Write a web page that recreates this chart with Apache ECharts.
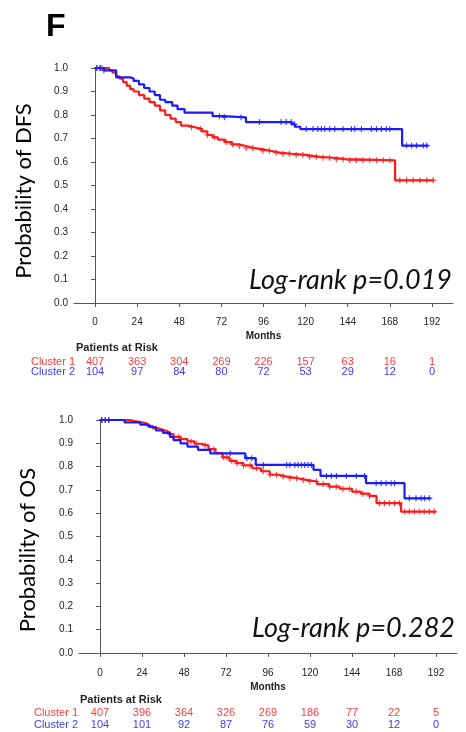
<!DOCTYPE html>
<html>
<head>
<meta charset="utf-8">
<script src="https://cdn.jsdelivr.net/npm/echarts@6/dist/echarts.min.js"></script>
<style>
  html, body { margin: 0; padding: 0; background: #fff; }
  #chart { width: 466px; height: 732px; }
</style>
</head>
<body>
<div id="chart"></div>
<script>
// month ticks shared by both panels
const monthTicks = [0, 24, 48, 72, 96, 120, 144, 168, 192];

// DFS – step curves (month, probability)
const dfsC1Time = [0, 8, 10, 12, 14, 16, 18, 20, 22, 25, 28, 31, 34, 37, 40, 43, 46, 49, 53, 57, 61, 64, 67, 70, 74, 78, 82, 86, 90, 95, 100, 105, 112, 120, 128, 136, 143, 171, 193];
const dfsC1Surv = [1.0, 0.99, 0.98, 0.965, 0.955, 0.94, 0.925, 0.91, 0.9, 0.885, 0.87, 0.855, 0.84, 0.82, 0.80, 0.785, 0.77, 0.755, 0.748, 0.74, 0.73, 0.715, 0.705, 0.695, 0.685, 0.675, 0.668, 0.66, 0.655, 0.648, 0.64, 0.635, 0.63, 0.622, 0.618, 0.612, 0.607, 0.522, 0.522];
const dfsC2Time = [0, 5, 12, 20, 22, 25, 28, 31, 34, 37, 40, 44, 47, 51, 67, 73, 86, 112, 114, 117, 175, 190];
const dfsC2Surv = [1.0, 0.99, 0.96, 0.955, 0.945, 0.93, 0.915, 0.9, 0.885, 0.865, 0.855, 0.84, 0.825, 0.81, 0.795, 0.79, 0.77, 0.76, 0.75, 0.74, 0.67, 0.67];
const dfsC1Censor = [1, 2.5, 4, 55, 60, 64, 68, 74.7, 78.5, 82.3, 86.1, 89.9, 95.6, 99.4, 103.2, 107, 110.8, 114.6, 118.4, 122.3, 126.1, 129.9, 133.7, 137.5, 141.3, 145.1, 148.9, 152.7, 156.5, 160.4, 164.2, 168, 173.7, 177.5, 181.3, 185.1, 189, 192.7];
const dfsC2Censor = [1, 3, 5, 70.9, 73.7, 83.2, 93.7, 106, 108.9, 111.8, 113.7, 120.4, 124.2, 127, 129, 130.9, 133.7, 136.6, 141.3, 146.1, 148, 151.8, 157.5, 160.4, 163.2, 166, 168, 177.5, 180.4, 183.2, 187, 189];
const dfsRiskC1 = [407, 363, 304, 269, 226, 157, 63, 16, 1];
const dfsRiskC2 = [104, 97, 84, 80, 72, 53, 29, 12, 0];

// OS – step curves (month, probability)
const osC1Time = [0, 17, 20, 24, 27, 30, 33, 36, 39, 42, 46, 50, 54, 58, 62, 66, 70, 74, 78, 82, 87, 92, 97, 102, 107, 113, 118, 124, 131, 137, 144, 149, 154, 158, 172, 192];
const osC1Surv = [1.0, 0.995, 0.99, 0.985, 0.975, 0.965, 0.958, 0.95, 0.94, 0.928, 0.918, 0.908, 0.898, 0.89, 0.875, 0.858, 0.84, 0.825, 0.815, 0.805, 0.793, 0.78, 0.765, 0.757, 0.75, 0.743, 0.736, 0.725, 0.714, 0.705, 0.693, 0.684, 0.674, 0.643, 0.607, 0.607];
const osC2Time = [0, 14, 23, 28, 32, 36, 40, 42, 46, 50, 56, 63, 83, 89, 122, 126, 152, 174, 189];
const osC2Surv = [1.0, 0.99, 0.98, 0.97, 0.955, 0.945, 0.928, 0.914, 0.9, 0.886, 0.872, 0.857, 0.836, 0.807, 0.786, 0.76, 0.729, 0.664, 0.664];
const osC1Censor = [1, 3, 5, 40, 45, 52, 55, 60, 65, 70.6, 72.5, 75.3, 78.2, 82, 85.8, 89.5, 93.3, 97.1, 100.9, 104.7, 108.5, 112.3, 116.1, 119.9, 123.7, 127.5, 131.2, 135, 138.8, 142.6, 146.4, 150.2, 154, 159.7, 162.6, 165.4, 168.3, 171.1, 174, 176.8, 179.6, 182.5, 185.3, 188.2, 191];
const osC2Censor = [1, 3, 5, 74.4, 83.9, 86.7, 93.3, 106.6, 108.5, 111.4, 113.2, 115.1, 117, 118.9, 120.8, 129.4, 132.2, 135.1, 140.8, 146.5, 151.2, 157.8, 160.7, 163.5, 166.4, 168.3, 176.8, 180.6, 183.5, 185.4, 188.2];
const osRiskC1 = [407, 396, 364, 326, 269, 186, 77, 22, 5];
const osRiskC2 = [104, 101, 92, 87, 76, 59, 30, 12, 0];

const RED = '#ff1a1a';
const BLUE = '#1a1aff';
const RED_TXT = '#ff3b3b';
const BLUE_TXT = '#3b3bff';
const PLUS = 'path://M4,0H6V4H10V6H6V10H4V6H0V4H4Z';

// value of a step curve at time t
const survAt = (times, surv, t) => {
    let v = surv[0];
    for (let i = 0; i < times.length; i++) {
        if (times[i] <= t) v = surv[i];
    }
    return v;
}

const pairs = (times, surv) => times.map((t, i) => [t, surv[i]]);
const censorPts = (cens, times, surv) => cens.map(t => [t, survAt(times, surv, t)]);

const chartDom = document.getElementById('chart');
const myChart = echarts.init(chartDom);

const grids = [
    { left: 74, top: 68, width: 379, height: 235 },
    { left: 79, top: 420, width: 378, height: 233 }
];

const makeXAxes = (gridIndex, riskC1, riskC2, labelMargin, nameGap, off1, off2) => {
    const base = {
        gridIndex: gridIndex,
        type: 'value',
        position: 'bottom',
        min: -12,
        max: 204,
        splitLine: { show: false }
    };
    return [
        Object.assign({}, base, {
            name: 'Months',
            nameLocation: 'middle',
            nameGap: nameGap,
            nameTextStyle: { fontFamily: 'Liberation Sans', fontWeight: 'bold', fontSize: 10, color: '#222' },
            axisLine: { show: true, lineStyle: { color: '#555', width: 1 } },
            axisTick: { show: true, length: 4, customValues: monthTicks, lineStyle: { color: '#555' } },
            axisLabel: { customValues: monthTicks, margin: labelMargin, fontFamily: 'Liberation Sans', fontSize: 10, color: '#222' }
        }),
        Object.assign({}, base, {
            offset: off1,
            axisLine: { show: false },
            axisTick: { show: false },
            axisLabel: {
                customValues: monthTicks, margin: 0, fontFamily: 'Liberation Sans', fontSize: 11, color: RED_TXT,
                formatter: v => riskC1[monthTicks.indexOf(v)]
            }
        }),
        Object.assign({}, base, {
            offset: off2,
            axisLine: { show: false },
            axisTick: { show: false },
            axisLabel: {
                customValues: monthTicks, margin: 0, fontFamily: 'Liberation Sans', fontSize: 11, color: BLUE_TXT,
                formatter: v => riskC2[monthTicks.indexOf(v)]
            }
        })
    ];
}

const makeYAxis = (gridIndex) => ({
    gridIndex: gridIndex,
    type: 'value',
    min: 0,
    max: 1,
    interval: 0.1,
    splitLine: { show: false },
    axisLine: { show: true, lineStyle: { color: '#555', width: 1 } },
    axisTick: { show: true, length: 4, lineStyle: { color: '#555' } },
    axisLabel: { margin: 6, fontFamily: 'Liberation Sans', fontSize: 10, color: '#222', formatter: v => v.toFixed(1) }
});

const stepLine = (xi, yi, data, color) => ({
    type: 'line', xAxisIndex: xi, yAxisIndex: yi, step: 'end', data: data,
    showSymbol: false, silent: true, animation: false,
    lineStyle: { color: color, width: 2.2 }
});

const censors = (xi, yi, data, color) => ({
    type: 'scatter', xAxisIndex: xi, yAxisIndex: yi, data: data,
    symbol: PLUS, symbolSize: 6, silent: true, animation: false,
    itemStyle: { color: color }
});

const textStyleRow = { fontFamily: 'Liberation Sans', fontSize: 11 };
const yTitle = { fontFamily: 'Lato', fontSize: 22, fill: '#000', align: 'center', verticalAlign: 'middle' };
const pText = { fontFamily: 'Lato', fontStyle: 'italic', fontSize: 27, fill: '#111', align: 'right', verticalAlign: 'middle' };

const option = {
    animation: false,
    grid: grids,
    xAxis: [
        ...makeXAxes(0, dfsRiskC1, dfsRiskC2, 14, 28, 53, 63),
        ...makeXAxes(1, osRiskC1, osRiskC2, 15, 29, 54, 66)
    ],
    yAxis: [
        makeYAxis(0),
        makeYAxis(1)
    ],
    series: [
        stepLine(0, 0, pairs(dfsC1Time, dfsC1Surv), RED),
        stepLine(0, 0, pairs(dfsC2Time, dfsC2Surv), BLUE),
        censors(0, 0, censorPts(dfsC1Censor, dfsC1Time, dfsC1Surv), RED),
        censors(0, 0, censorPts(dfsC2Censor, dfsC2Time, dfsC2Surv), BLUE),
        stepLine(3, 1, pairs(osC1Time, osC1Surv), RED),
        stepLine(3, 1, pairs(osC2Time, osC2Surv), BLUE),
        censors(3, 1, censorPts(osC1Censor, osC1Time, osC1Surv), RED),
        censors(3, 1, censorPts(osC2Censor, osC2Time, osC2Surv), BLUE)
    ],
    graphic: [
        { type: 'text', left: 46, top: 11, style: { text: 'F', fontFamily: 'Liberation Sans', fontWeight: 'bold', fontSize: 32, fill: '#000' } },
        // DFS panel
        { type: 'text', x: 24, y: 191, rotation: Math.PI / 2, style: Object.assign({ text: 'Probability of DFS' }, yTitle) },
        { type: 'text', x: 452, y: 280, style: Object.assign({ text: 'Log-rank p=0.019' }, pText) },
        { type: 'text', x: 76, y: 348, style: Object.assign({ text: 'Patients at Risk', fontWeight: 'bold', fill: '#222', verticalAlign: 'middle' }, textStyleRow) },
        { type: 'text', x: 75, y: 362, style: Object.assign({ text: 'Cluster 1', fill: RED_TXT, align: 'right', verticalAlign: 'middle' }, textStyleRow) },
        { type: 'text', x: 75, y: 372, style: Object.assign({ text: 'Cluster 2', fill: BLUE_TXT, align: 'right', verticalAlign: 'middle' }, textStyleRow) },
        // OS panel
        { type: 'text', x: 28, y: 550, rotation: Math.PI / 2, style: Object.assign({ text: 'Probability of OS' }, yTitle) },
        { type: 'text', x: 455, y: 628, style: Object.assign({ text: 'Log-rank p=0.282' }, pText) },
        { type: 'text', x: 80, y: 700, style: Object.assign({ text: 'Patients at Risk', fontWeight: 'bold', fill: '#222', verticalAlign: 'middle' }, textStyleRow) },
        { type: 'text', x: 78, y: 713, style: Object.assign({ text: 'Cluster 1', fill: RED_TXT, align: 'right', verticalAlign: 'middle' }, textStyleRow) },
        { type: 'text', x: 78, y: 725, style: Object.assign({ text: 'Cluster 2', fill: BLUE_TXT, align: 'right', verticalAlign: 'middle' }, textStyleRow) }
    ]
};

myChart.setOption(option);
</script>
</body>
</html>
